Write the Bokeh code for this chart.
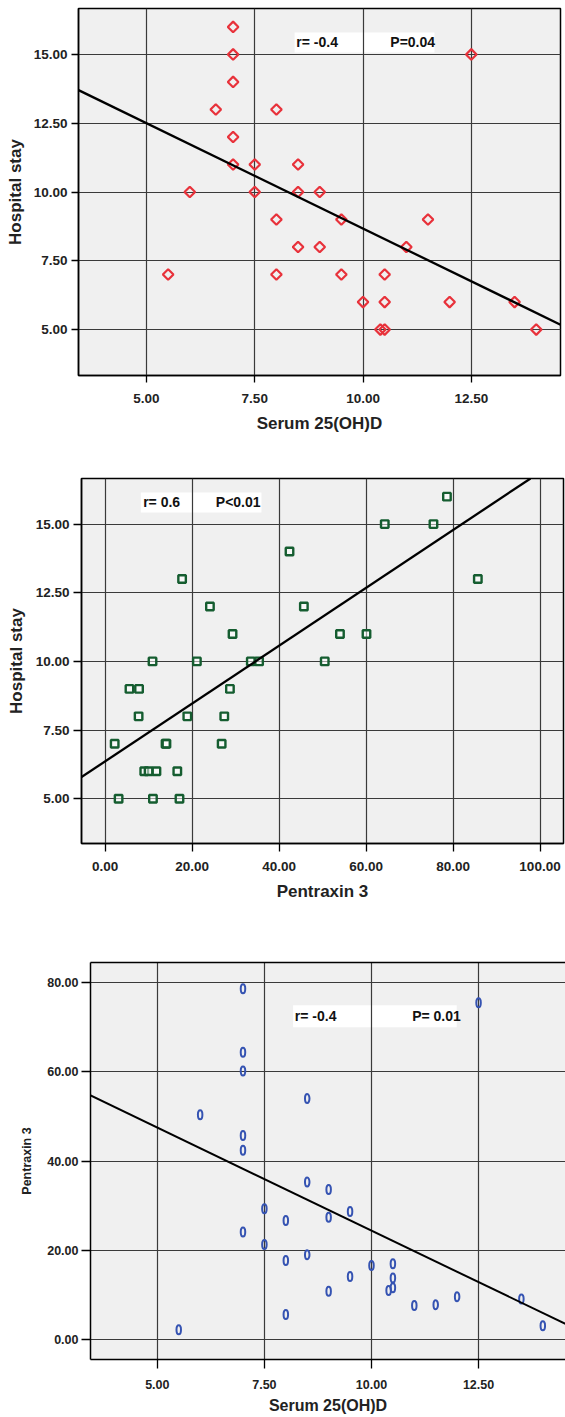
import numpy as np
from bokeh.plotting import figure
from bokeh.models import Slope, BoxAnnotation, Label, NumeralTickFormatter, Range1d, LinearAxis
from bokeh.embed import file_html
from bokeh.resources import INLINE

FONT = "Liberation Sans"

# ---------------- data ----------------
# Panel 1: Serum 25(OH)D vs Hospital stay
vitd_1 = [7, 7, 12.5, 7, 6.6, 8, 7, 7, 7.5, 8.5, 6, 7.5, 8.5, 9, 8, 9.5, 11.5,
          8.5, 9, 11, 5.5, 8, 9.5, 10.5, 10, 10.5, 12, 13.5, 10.4, 10.5, 14]
stay_1 = [16, 15, 15, 14, 13, 13, 12, 11, 11, 11, 10, 10, 10, 10, 9, 9, 9,
          8, 8, 8, 7, 7, 7, 7, 6, 6, 6, 6, 5, 5, 5]
fit1_intercept = 16.33
fit1_slope = -0.766

# Panel 2: Pentraxin 3 vs Hospital stay
ptx_2 = [78.6, 64.3, 75.5, 42.4, 17.7, 85.7, 24.1, 45.7, 29.3, 54.0, 60.1,
         10.9, 21.1, 33.5, 35.4, 50.5, 5.6, 7.8, 28.7, 7.7, 18.9, 27.4,
         2.2, 13.9, 14.1, 26.8, 9.0, 10.0, 11.8, 16.6, 3.1, 11.0, 17.1]
stay_2 = [16, 15, 15, 14, 13, 13, 12, 12, 11, 11, 11,
          10, 10, 10, 10, 10, 9, 9, 9, 8, 8, 8,
          7, 7, 7, 7, 6, 6, 6, 6, 5, 5, 5]
fit2_intercept = 6.36
fit2_slope = 0.1053

# Panel 3: Serum 25(OH)D vs Pentraxin 3
vitd_3 = [7, 7, 7, 8.5, 6, 7, 7, 12.5, 8.5, 7.5, 8, 7, 7.5, 8.5, 8, 8, 5.5,
          9, 9.5, 9, 10, 10.5, 9.5, 10.5, 10.5, 10.4, 9, 11, 11.5, 12, 13.5, 14]
ptx_3 = [78.6, 64.4, 60.2, 54.0, 50.4, 45.7, 42.4, 75.5, 35.3, 29.3, 26.7,
         24.1, 21.3, 19.0, 17.7, 5.6, 2.2, 33.6, 28.7, 27.4, 16.6, 17.0,
         14.1, 13.8, 11.6, 11.0, 10.8, 7.6, 7.8, 9.6, 9.1, 3.1]
fit3_intercept = 70.58
fit3_slope = -4.617

vitd_ticks = [5.0, 7.5, 10.0, 12.5]
stay_ticks = [5.0, 7.5, 10.0, 12.5, 15.0]
ptx_ticks = [0, 20, 40, 60, 80, 100]
ptx_ticks_y = [0, 20, 40, 60, 80]

labels_1 = ("r= -0.4", "P=0.04")
labels_2 = ("r= 0.6", "P<0.01")
labels_3 = ("r= -0.4", "P= 0.01")


def make_fig(width, height, xr, yr, bl, br, bt, bb, xticks, yticks, xlabel, ylabel,
             tick_fs="13.5px", xlab_fs="17px", ylab_fs="17px", tick_out=7,
             xstand=6, ystand=4, xlabstand=9, ylabstand=7, outline=True):
    p = figure(width=width, height=height, x_range=Range1d(*xr), y_range=Range1d(*yr),
               output_backend="svg", toolbar_location=None,
               min_border_left=bl, min_border_right=br, min_border_top=bt,
               min_border_bottom=bb, background_fill_color="#f0f0f0",
               border_fill_color="white")
    if outline:
        p.outline_line_color = "black"
        p.outline_line_width = 1.5
    else:
        p.outline_line_color = None
    p.xaxis.ticker = xticks
    p.yaxis.ticker = yticks
    for ax in (p.xaxis[0], p.yaxis[0]):
        ax.formatter = NumeralTickFormatter(format="0.00")
        ax.axis_line_color = "black"
        ax.axis_line_width = 1.5
        ax.major_tick_line_color = "black"
        ax.major_tick_line_width = 1.3
        ax.major_tick_out = tick_out
        ax.major_tick_in = 0
        ax.minor_tick_line_color = None
        ax.major_label_text_font = FONT
        ax.major_label_text_font_style = "bold"
        ax.major_label_text_font_size = tick_fs
        ax.major_label_text_color = "#222222"
        ax.axis_label_text_font = FONT
        ax.axis_label_text_font_style = "bold"
        ax.axis_label_text_color = "#222222"
    p.xaxis.axis_label = xlabel
    p.yaxis.axis_label = ylabel
    p.xaxis.axis_label_text_font_size = xlab_fs
    p.yaxis.axis_label_text_font_size = ylab_fs
    p.xaxis.major_label_standoff = xstand
    p.yaxis.major_label_standoff = ystand
    p.xaxis.axis_label_standoff = xlabstand
    p.yaxis.axis_label_standoff = ylabstand
    p.xgrid.grid_line_color = "#3a3a3a"
    p.ygrid.grid_line_color = "#3a3a3a"
    p.xgrid.grid_line_width = 1.2
    p.ygrid.grid_line_width = 1.2
    return p


def add_stats(p, box, texts, tx, ty, fs="14px"):
    p.add_layout(BoxAnnotation(left=box[0], right=box[1], bottom=box[2], top=box[3],
                               fill_color="white", fill_alpha=1.0, line_color=None,
                               level="image"))
    for t, x in zip(texts, tx):
        p.add_layout(Label(x=x, y=ty, text=t, text_font=FONT, text_font_style="bold",
                           text_font_size=fs, text_baseline="middle",
                           text_color="#111111"))


# ---------------- panel 1 ----------------
p1 = make_fig(562, 440, (3.43, 14.56), (3.33, 16.67), 78, 2, 8, 65,
              vitd_ticks, stay_ticks, "Serum 25(OH)D", "Hospital stay",
              xstand=11, xlabstand=8, ystand=4, ylabstand=6)
add_stats(p1, (8.42, 11.65, 15.07, 15.8), labels_1, (8.46, 10.63), 15.44)
p1.scatter(vitd_1, stay_1, marker="square", angle=np.pi / 4, size=7.5,
           fill_color=None, line_color="#e8323b", line_width=2.2)
p1.add_layout(Slope(gradient=fit1_slope, y_intercept=fit1_intercept,
                    line_color="black", line_width=2.3))

# ---------------- panel 2 ----------------
p2 = make_fig(565, 465, (-5.43, 105.4), (3.37, 16.66), 81, 2, 38, 62,
              ptx_ticks, stay_ticks, "Pentraxin 3", "Hospital stay",
              tick_out=8, xstand=10, xlabstand=8, ystand=4, ylabstand=7)
add_stats(p2, (8.2, 35.95, 15.42, 16.15), labels_2, (8.74, 25.45), 15.79)
p2.scatter(ptx_2, stay_2, marker="square", size=7.5,
           fill_color="white", fill_alpha=0.5, line_color="#155d30", line_width=2.4)
p2.add_layout(Slope(gradient=fit2_slope, y_intercept=fit2_intercept,
                    line_color="black", line_width=2.3))

# ---------------- panel 3 ----------------
p3 = make_fig(565, 512, (3.44, 14.53), (-4.48, 84.5), 90, 0, 57, 58,
              vitd_ticks, ptx_ticks_y, "Serum 25(OH)D", "Pentraxin 3",
              tick_fs="12.5px", xlab_fs="16px", ylab_fs="12.5px", tick_out=9,
              xstand=11, ystand=3, xlabstand=5, ylabstand=10, outline=False)
top_axis = LinearAxis(ticker=[], axis_line_color="black", axis_line_width=1.5,
                      major_tick_line_color=None, minor_tick_line_color=None,
                      major_label_text_font_size="0px")
p3.add_layout(top_axis, "above")
add_stats(p3, (8.17, 11.99, 70.0, 74.9), labels_3, (8.21, 10.95), 72.4)
p3.ellipse(x=vitd_3, y=ptx_3, width=4.5, height=9, width_units="screen",
           height_units="screen", fill_color=None, line_color="#3553b2", line_width=2)
p3.add_layout(Slope(gradient=fit3_slope, y_intercept=fit3_intercept,
                    line_color="black", line_width=2.0))

# three independent roots (no frame alignment between the panels)
open("out.html", "w").write(file_html([p1, p2, p3], INLINE))
